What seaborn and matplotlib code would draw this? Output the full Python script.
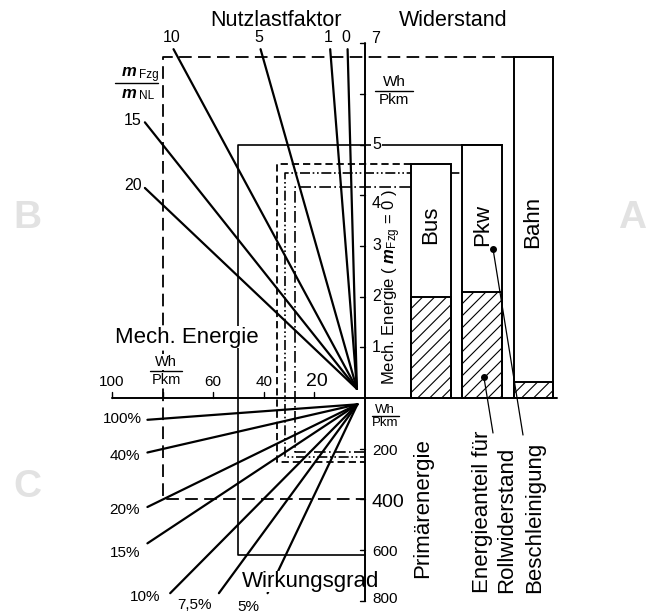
import numpy as np
import pandas as pd
import matplotlib
matplotlib.use("Agg")
import matplotlib.pyplot as plt
import seaborn as sns

# ---------------------------------------------------------------- data
# Nutzlastfaktor rays (m_Fzg / m_NL)
load_factors = [0, 1, 5, 10, 15, 20]
# Wirkungsgrad rays
efficiencies = [1.00, 0.40, 0.20, 0.15, 0.10, 0.075, 0.05]
eff_labels = ["100%", "40%", "20%", "15%", "10%", "7,5%", "5%"]

# Widerstand bars: mech. energy for m_Fzg = 0 (Wh/Pkm)
vehicles = ["Bus", "Pkw", "Bahn"]
e_total = [4.62, 5.00, 6.73]
e_roll = [2.00, 2.10, 0.32]

# worked examples: e0 (Wh/Pkm), mech. energy (Wh/Pkm), primary energy (Wh/Pkm)
ex_e0 = [6.73, 5.00, 4.62, 4.44, 4.16]
ex_emech = [80.0, 50.0, 34.8, 31.6, 27.7]
ex_prim = [400, 620, 252, 233, 213]

# axis ticks
upper_ticks = [1, 2, 3, 4, 5, 6, 7]
upper_labels = ["1", "2", "3", "4", "5", "", "7"]
left_ticks = [20, 40, 60, 80, 100]
left_labels = ["20", "40", "60", "", "100"]
lower_ticks = [200, 400, 600, 800]
lower_labels = ["200", "400", "600", "800"]

# ---------------------------------------------------------------- style
sns.set_theme(style="white")
plt.rcParams["font.family"] = ["Liberation Sans", "DejaVu Sans"]
plt.rcParams["mathtext.fontset"] = "custom"
plt.rcParams["mathtext.rm"] = "Liberation Sans"
plt.rcParams["mathtext.it"] = "Liberation Sans:italic"
plt.rcParams["mathtext.bf"] = "Liberation Sans:bold"
try:
    plt.rcParams["mathtext.bfit"] = "Liberation Sans:bold:italic"
    BFIT = r"\mathbfit"
except KeyError:
    BFIT = r"\mathbf"

W, H = 650, 613
SX, SY = 2.53, 50.7      # pixels per unit: left scale / upper scale
OX, OY = 365, 398        # origin in pixels
PSCALE = 200.0           # primary energy per upper-scale unit
INK = "black"

fig = plt.figure(figsize=(W / 100, H / 100), dpi=100)
ax = fig.add_axes([0, 0, 1, 1])
ax.set_xlim(-OX / SX, (W - OX) / SX)
ax.set_ylim((OY - H) / SY, OY / SY)
ax.axis("off")


def py(yv):
    """pixel row of an upper-scale value"""
    return OY - yv * SY


def px(xv):
    return OX + xv * SX


def label(xp, yp, s, size=11, **kw):
    kw.setdefault("ha", "center")
    kw.setdefault("va", "center")
    kw.setdefault("color", INK)
    return ax.text(xp / W, 1 - yp / H, s, fontsize=size,
                   transform=fig.transFigure, **kw)


WHITE_BOX = dict(facecolor="white", edgecolor="none", pad=0.5)

# ---------------------------------------------------------------- axes lines
ax.plot([0, 0], [0, 7], color=INK, lw=1.4, zorder=6)
ax.plot([0, 0], [0, -800 / PSCALE], color=INK, lw=1.4, zorder=6)

centers = [26.0, 46.3, 66.6]
bw = 15.6
bar_right = centers[-1] + bw / 2 + 1.5
ax.plot([-100, bar_right], [0, 0], color=INK, lw=1.4, zorder=6)

tick_dx = 5 / SX
tick_dy = 6 / SY
for v in upper_ticks:
    ax.plot([-tick_dx, 0], [v, v], color=INK, lw=1.0, zorder=6)
for e in left_ticks:
    ax.plot([-e, -e], [0, tick_dy], color=INK, lw=1.0, zorder=6)
for p in lower_ticks:
    ax.plot([-tick_dx, 0], [-p / PSCALE] * 2, color=INK, lw=1.0, zorder=6)

for v, s in zip(upper_ticks, upper_labels):
    if not s:
        continue
    if v == 7:
        label(376, py(v) - 5, s, 11.5)
    else:
        off = 8 if v == 4 else 0
        label(372, py(v) + off, s, 11.5, ha="left",
              bbox=WHITE_BOX if v == 5 else None, zorder=7)
for e, s in zip(left_ticks, left_labels):
    if not s:
        continue
    big = s == "20"
    label(px(-e) + (2 if big else 0), 382, s, 14 if big else 11)
for p, s in zip(lower_ticks, lower_labels):
    yp = OY + p / PSCALE * SY
    if s == "400":
        label(371, yp + 3, s, 14, ha="left")
    elif s == "800":
        label(372, yp - 2, s, 11, ha="left")
    else:
        label(372, yp + 2, s, 11, ha="left")


# unit fractions
def fraction(xc, ytop, ybot, yline, width, top, bot, size=10.5, box=False):
    kw = dict(bbox=WHITE_BOX, zorder=7) if box else {}
    label(xc, ytop, top, size, **kw)
    label(xc, ybot, bot, size, **kw)
    fig.add_artist(plt.Line2D([(xc - width / 2) / W, (xc + width / 2) / W],
                              [1 - yline / H] * 2, color=INK, lw=1.0))


fraction(394, 82, 100, 91, 38, "Wh", "Pkm", 11)
fraction(166, 362, 380, 371, 32, "Wh", "Pkm", 10.5, box=True)
fraction(385, 410, 423, 416, 27, "Wh", "Pkm", 9.5)

# ---------------------------------------------------------------- rays
E0_TOP = 6.88
R_MAX = 87.0
piv_u = (-3.2, 0.18)
rows = []
ends_u = {}
for k in load_factors:
    e0_end = min(E0_TOP, R_MAX / (1 + k))
    xe, ye = -(1 + k) * e0_end, e0_end
    ends_u[k] = (xe, ye)
    rows.append(dict(ray=f"n{k}", x=piv_u[0], y=piv_u[1]))
    rows.append(dict(ray=f"n{k}", x=xe, y=ye))
df_up = pd.DataFrame(rows)
sns.lineplot(data=df_up, x="x", y="y", units="ray", estimator=None,
             sort=False, color=INK, linewidth=1.6, ax=ax, legend=False)

for k in load_factors:
    xe, ye = ends_u[k]
    if ye >= E0_TOP - 1e-9:
        label(px(xe) - 2, 38, str(k), 11.5)
    else:
        label(px(xe) - 3, py(ye) - 2, str(k), 11.5, ha="right")

E_END = 86.0
P_END = 770.0
piv_l = (-3.0, -25 / PSCALE)
rows = []
for eta, lab in zip(efficiencies, eff_labels):
    e_end = min(E_END, eta * P_END)
    rows.append(dict(ray=lab, x=piv_l[0], y=piv_l[1]))
    rows.append(dict(ray=lab, x=-e_end, y=-(e_end / eta) / PSCALE))
df_lo = pd.DataFrame(rows)
sns.lineplot(data=df_lo, x="x", y="y", units="ray", estimator=None,
             sort=False, color=INK, linewidth=1.6, ax=ax, legend=False)

eff_pos = [(122, 419), (125, 456), (125, 510), (125, 553),
           (145, 597), (195, 605), (248, 607)]
for (xp, yp), lab in zip(eff_pos, eff_labels):
    label(xp, yp, lab, 11)

# ---------------------------------------------------------------- bars
ax.bar(centers, e_total, width=bw, color="white", edgecolor="none", zorder=3)
outline = ax.bar(centers, e_total, width=bw, fill=False, edgecolor=INK,
                 linewidth=1.4, zorder=4)
rolling = ax.bar(centers, e_roll, width=bw, fill=False, edgecolor=INK,
                 linewidth=1.4, zorder=4)

# diagonal shading of the rolling-resistance share, 12 px apart
HATCH_PX = 12.0
for patch in rolling.patches:
    x0, y0 = patch.get_x(), patch.get_y()
    wpx, hpx = patch.get_width() * SX, patch.get_height() * SY
    t = np.array([0.0, wpx + hpx])
    for c in np.arange(-hpx, wpx + HATCH_PX, HATCH_PX):
        ln, = ax.plot(x0 + (c + t) / SX, y0 + t / SY, color=INK, lw=0.8,
                      zorder=3.5)
        ln.set_clip_path(patch)

for c, name in zip(centers, vehicles):
    label(px(c) + (0 if name != "Bahn" else -1), 225 if name != "Bahn" else 222,
          name, 16, rotation=90)

# ---------------------------------------------------------------- examples
bus_l, bus_r = centers[0] - bw / 2, centers[0] + bw / 2
pkw_r = centers[1] + bw / 2
bahn_l = centers[2] - bw / 2
reach = [bahn_l, pkw_r, bus_l, pkw_r, bus_r]
styles = [(0, (7, 3.5)), "-", (0, (4, 2.2)),
          (0, (6, 1.6, 1, 1.6, 1, 1.6)), (0, (7, 2, 1, 2))]
widths = [1.3, 1.2, 1.3, 1.2, 1.2]
for e0, em, pr, xr, ls, lw in zip(ex_e0, ex_emech, ex_prim, reach, styles, widths):
    yb = -pr / PSCALE
    ax.plot([xr, -em, -em, 0], [e0, e0, yb, yb], color=INK, lw=lw,
            linestyle=ls, zorder=2)

# ---------------------------------------------------------------- titles
label(276, 20, "Nutzlastfaktor", 15.5)
label(453, 20, "Widerstand", 15.5)
label(187, 337, "Mech. Energie", 16, bbox=WHITE_BOX, zorder=5)
label(311, 581, "Wirkungsgrad", 16, bbox=dict(facecolor="white",
      edgecolor="none", pad=0.0), zorder=5)
label(423, 508, "Primärenergie", 16, rotation=90)
label(392, 287, "Mech. Energie ( $" + BFIT + "{m}_{\\mathrm{Fzg}}$ = 0 )",
      12, rotation=90)
label(482, 593, "Energieanteil für", 16, rotation=90, va="bottom")
label(507, 593, "Rollwiderstand", 16, rotation=90, va="bottom")
label(535, 593, "Beschleinigung", 16, rotation=90, va="bottom")

# m_Fzg / m_NL
label(137, 72, "$" + BFIT + "{m}$", 12, ha="right")
label(139, 75, "Fzg", 8.5, ha="left")
label(137, 94, "$" + BFIT + "{m}$", 12, ha="right")
label(139, 96, "NL", 8.5, ha="left")
fig.add_artist(plt.Line2D([115 / W, 158 / W], [1 - 83 / H] * 2, color=INK, lw=1.0))

# leaders
for (dx, dy), (tx, ty) in zip([(47.0, 0.41), (50.6, 2.94)], [(493, 433), (523, 435)]):
    ax.annotate("", xy=(dx, dy), xycoords="data",
                xytext=(tx, H - ty), textcoords="figure pixels",
                arrowprops=dict(arrowstyle="-", lw=0.9, color=INK,
                                shrinkA=0, shrinkB=0), zorder=7)
    ax.plot([dx], [dy], "o", color=INK, ms=4, zorder=7)

# panel letters
for s, (xp, yp) in zip(["A", "B", "C"], [(632, 218), (27, 218), (27, 487)]):
    label(xp, yp, s, 28, color="#e2e2e2", fontweight="bold")

fig.savefig("out.png", dpi=100, facecolor="white")
